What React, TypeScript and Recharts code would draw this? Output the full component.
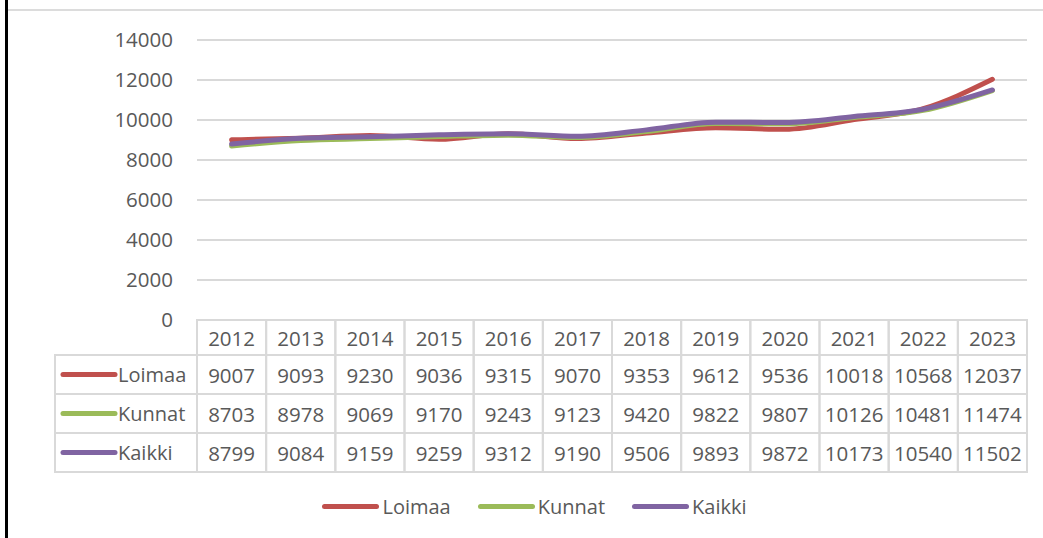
import { CartesianGrid, Legend, Line, LineChart, XAxis, YAxis } from 'recharts';

const years = ['2012', '2013', '2014', '2015', '2016', '2017', '2018', '2019', '2020', '2021', '2022', '2023'];
const loimaa = [9007, 9093, 9230, 9036, 9315, 9070, 9353, 9612, 9536, 10018, 10568, 12037];
const kunnat = [8703, 8978, 9069, 9170, 9243, 9123, 9420, 9822, 9807, 10126, 10481, 11474];
const kaikki = [8799, 9084, 9159, 9259, 9312, 9190, 9506, 9893, 9872, 10173, 10540, 11502];
const yTicks = [0, 2000, 4000, 6000, 8000, 10000, 12000, 14000];

const series = [
  { name: 'Loimaa', values: loimaa, color: '#C0504D' },
  { name: 'Kunnat', values: kunnat, color: '#9BBB59' },
  { name: 'Kaikki', values: kaikki, color: '#8064A2' },
];

const data = years.map((year, i) => {
  const row: Record<string, string | number> = { year };
  series.forEach((s) => (row[s.name] = s.values[i]));
  return row;
});

const W = 1043;
const H = 538;
const FONT = '"Open Sans", Lato, sans-serif';
const FS = 20;
const NUM_FS = 20.5;
const TEXT = '#595959';
const GRID = '#d9d9d9';
const PLOT_LEFT = 197;
const PLOT_RIGHT = 16;
const COL_W = (W - PLOT_LEFT - PLOT_RIGHT) / years.length;
const HEAD_H = 35;
const ROW_H = 39;
const LABEL_LEFT = 55;

// one column of the data table, hung under each x tick
function TableColumn(props: any) {
  const { x, y, index, payload } = props;
  const left = x - COL_W / 2;
  return (
    <g fontFamily={FONT} fontSize={NUM_FS} fill={TEXT}>
      {index === 0 &&
        series.map((s, r) => {
          const top = y + HEAD_H + r * ROW_H;
          return (
            <g key={s.name}>
              <rect x={LABEL_LEFT} y={top} width={left - LABEL_LEFT} height={ROW_H} fill="none" stroke={GRID} strokeWidth={2} />
              <line x1={63} x2={115} y1={top + ROW_H / 2} y2={top + ROW_H / 2} stroke={s.color} strokeWidth={5} strokeLinecap="round" />
              <text x={118} y={top + ROW_H / 2} dominantBaseline="central" fontSize={FS} fill={TEXT}>
                {s.name}
              </text>
            </g>
          );
        })}
      <rect x={left} y={y} width={COL_W} height={HEAD_H} fill="none" stroke={GRID} strokeWidth={2} />
      <text x={x} y={y + HEAD_H / 2} textAnchor="middle" dominantBaseline="central" fill={TEXT}>
        {payload.value}
      </text>
      {series.map((s, r) => {
        const top = y + HEAD_H + r * ROW_H;
        return (
          <g key={s.name}>
            <rect x={left} y={top} width={COL_W} height={ROW_H} fill="none" stroke={GRID} strokeWidth={2} />
            <text x={x} y={top + ROW_H / 2} textAnchor="middle" dominantBaseline="central" fill={TEXT}>
              {s.values[index]}
            </text>
          </g>
        );
      })}
    </g>
  );
}

function LegendRow() {
  return (
    <div
      style={{
        display: 'flex',
        justifyContent: 'center',
        alignItems: 'center',
        height: 40,
        paddingLeft: 42,
        gap: 27,
        fontFamily: FONT,
        fontSize: FS,
        color: TEXT,
      }}
    >
      {series.map((s) => (
        <div key={s.name} style={{ display: 'flex', alignItems: 'center', gap: 3 }}>
          <span style={{ width: 57, height: 5, borderRadius: 3, background: s.color, display: 'inline-block' }} />
          <span>{s.name}</span>
        </div>
      ))}
    </div>
  );
}

export default function App() {
  return (
    <div style={{ position: 'absolute', left: 0, top: 0, width: W, height: H, background: '#fff', overflow: 'hidden' }}>
      <div style={{ position: 'absolute', left: 5, top: 0, width: 3, height: H, background: '#000' }} />
      <div style={{ position: 'absolute', left: 8, top: 9, right: 0, height: 2, background: '#dcdcdc' }} />
      <div style={{ position: 'absolute', left: 0, top: 0 }}>
        <LineChart width={W} height={H} data={data} margin={{ top: 40, right: PLOT_RIGHT, bottom: 12, left: 0 }}>
          <CartesianGrid vertical={false} stroke={GRID} strokeWidth={2} />
          <XAxis
            dataKey="year"
            scale="band"
            height={166}
            axisLine={false}
            tickLine={false}
            tickSize={0}
            tickMargin={0}
            interval={0}
            tick={(p: any) => <TableColumn {...p} />}
          />
          <YAxis
            width={PLOT_LEFT}
            domain={[0, 14000]}
            ticks={yTicks}
            axisLine={false}
            tickLine={false}
            tickSize={0}
            tickMargin={24}
            tick={{ fill: TEXT, fontSize: NUM_FS, fontFamily: FONT }}
          />
          <Legend verticalAlign="bottom" height={40} content={() => <LegendRow />} />
          {series.map((s) => (
            <Line
              key={s.name}
              type="monotone"
              dataKey={s.name}
              stroke={s.color}
              strokeWidth={5}
              strokeLinecap="round"
              dot={false}
              activeDot={false}
              isAnimationActive={false}
            />
          ))}
        </LineChart>
      </div>
    </div>
  );
}
